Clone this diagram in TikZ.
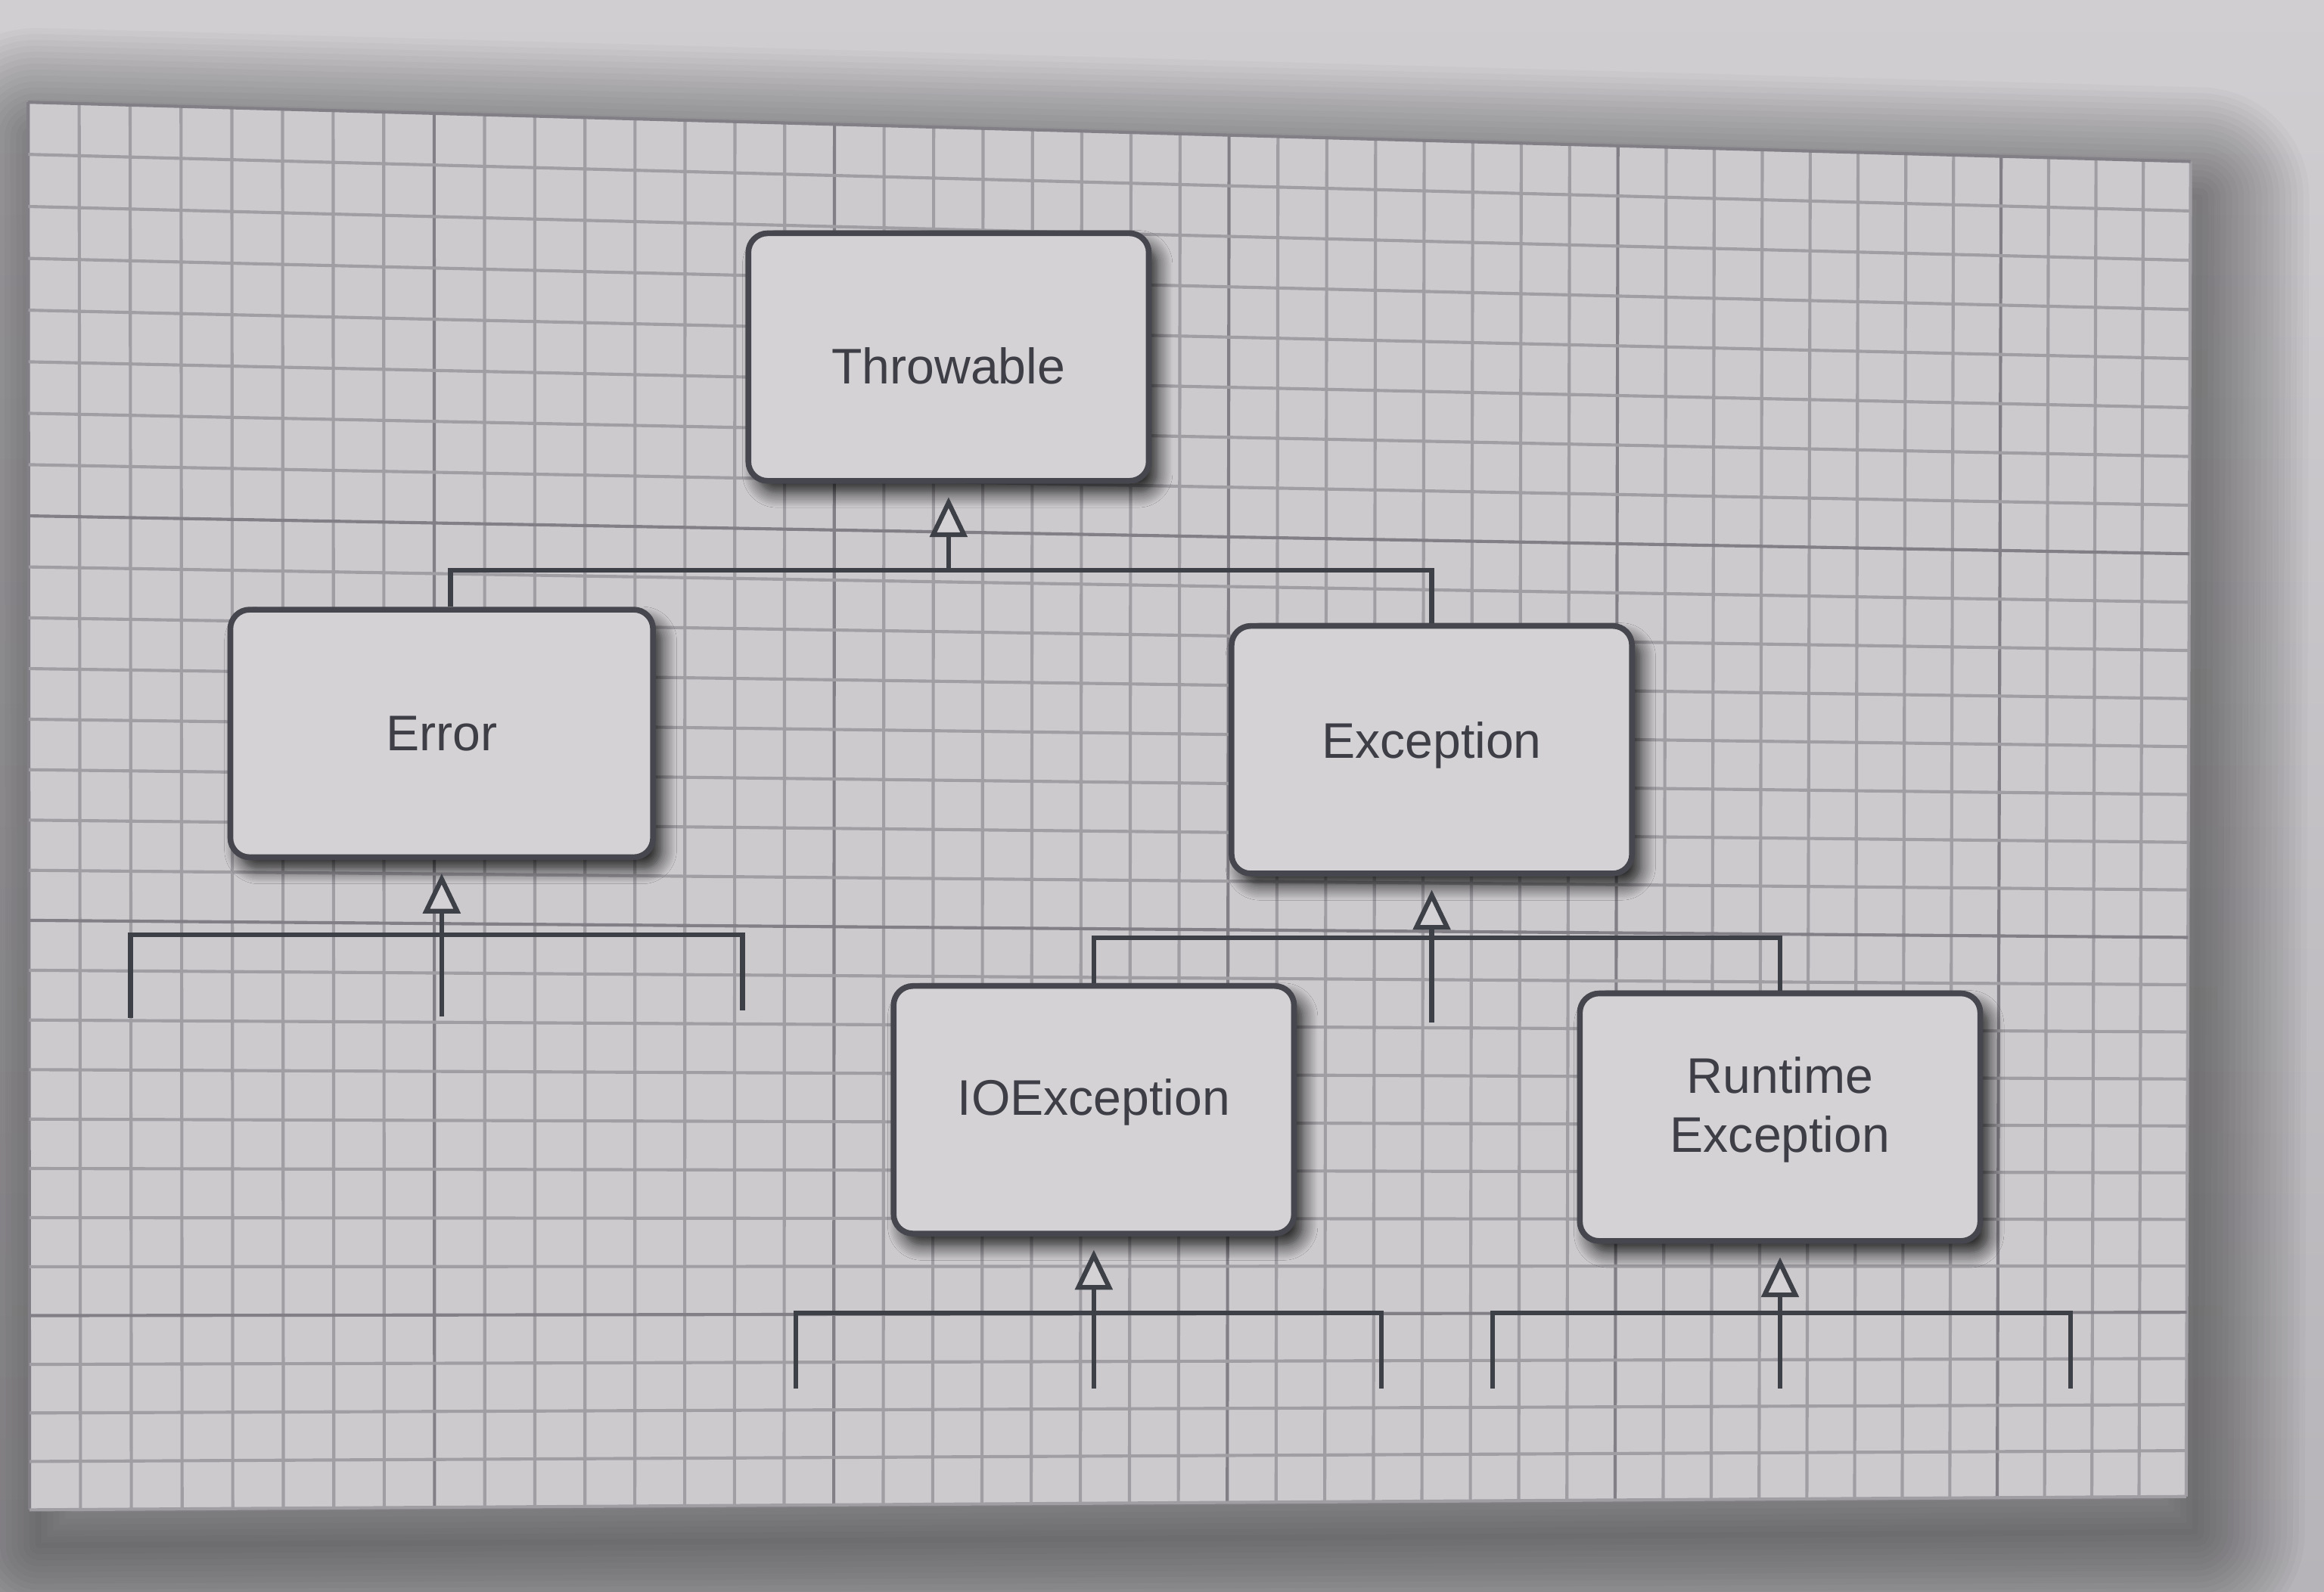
\documentclass[tikz,border=0pt]{standalone}
\usepackage{fontspec}
\setmainfont{Liberation Sans}
\usetikzlibrary{arrows.meta,calc,shadows.blur}
\definecolor{pagetop}{RGB}{208,206,209}
\definecolor{pagebottom}{RGB}{182,180,184}
\definecolor{sheet}{RGB}{204,202,205}
\definecolor{minorgrid}{RGB}{160,158,163}
\definecolor{majorgrid}{RGB}{130,128,134}
\definecolor{boxfill}{RGB}{212,210,213}
\definecolor{boxline}{RGB}{70,70,78}
\definecolor{ink}{RGB}{62,62,70}
\definecolor{linkcol}{RGB}{62,64,72}

\begin{document}
\begin{tikzpicture}[x=0.01cm,y=-0.01cm,font=\fontsize{9.6}{11.4}\selectfont,
  classbox/.style={draw=boxline,line width=1.1pt,fill=boxfill,rounded corners=0.13cm,
    minimum width=2.7cm,minimum height=1.67cm,align=center,text=ink,
    blur shadow={shadow xshift=0.06cm,shadow yshift=-0.08cm,shadow blur radius=0.1cm,shadow blur steps=10,shadow opacity=85}},
  link/.style={draw=linkcol,line width=0.9pt},
  isa/.style={link,-{Triangle[length=0.27cm,width=0.25cm,fill=boxfill]},shorten >=0.09cm}]
\useasboundingbox (0,0) rectangle (1568,1074);
\fill[top color=pagetop,bottom color=pagebottom] (0,0) rectangle (1568,1074);
\coordinate (TL) at (19,69);
\coordinate (TR) at (1478,109);
\coordinate (BR) at (1475,1010);
\coordinate (BL) at (20,1019);
\foreach \w in {4,12,...,148} {
  \draw[black,opacity=0.022,line width=\w*0.1mm,line join=round]
    ($(TL)+(6,24)$) -- ($(TR)+(6,24)$) -- ($(BR)+(6,24)$) -- ($(BL)+(6,24)$) -- cycle;
}
\fill[sheet] (TL) -- (TR) -- (BR) -- (BL) -- cycle;
\foreach \i in {0,...,44} {
  \pgfmathsetmacro\f{\i/44+0.04*(\i/44)*(1-\i/44)}
  \pgfmathtruncatemacro\m{mod(\i,8)}
  \ifnum\m=0 \def\gc{majorgrid}\else\def\gc{minorgrid}\fi
  \draw[draw=\gc,line width=0.6pt] ($(TL)!\f!(TR)$) -- ($(BL)!\f!(BR)$);
}
\foreach \j in {0,...,28} {
  \pgfmathsetmacro\g{\j/28+0.04*(\j/28)*(1-\j/28)}
  \pgfmathtruncatemacro\m{mod(\j,8)}
  \ifnum\m=0 \def\gc{majorgrid}\else\def\gc{minorgrid}\fi
  \draw[draw=\gc,line width=0.6pt] ($(TL)!\g!(BL)$) -- ($(TR)!\g!(BR)$);
}
\node[classbox,text height=10.3pt,text depth=0pt] (Throwable) at (640,241) {Throwable};
\node[classbox,minimum width=2.85cm] (Error) at (298,495) {Error};
\node[classbox,text depth=3.7pt] (Exception) at (966,506) {Exception};
\node[classbox,text depth=4.8pt] (IOException) at (738,749) {IOException};
\node[classbox] (Runtime) at (1201,754) {Runtime\\Exception\rule{0pt}{0pt}\vspace{0.1cm}};
\coordinate (tbar) at (640,385);
\coordinate (ebar) at (298,631);
\coordinate (eleft) at (88,687);
\coordinate (eright) at (501,682);
\coordinate (estem) at (298,686);
\coordinate (xbar) at (966,633);
\coordinate (xstem) at (966,690);
\coordinate (ibar) at (738,886);
\coordinate (ileft) at (537,937);
\coordinate (iright) at (932,937);
\coordinate (istem) at (738,937);
\coordinate (rbar) at (1201,886);
\coordinate (rleft) at (1007,937);
\coordinate (rright) at (1397,937);
\coordinate (rstem) at (1201,937);
\draw[link] ([xshift=0.06cm]Error.north) |- (tbar) -| (Exception.north);
\draw[isa] (tbar) -- (Throwable.south);
\draw[link] (eleft) |- (ebar) -| (eright);
\draw[isa] (estem) -- (Error.south);
\draw[link] (IOException.north) |- (xbar) -| (Runtime.north);
\draw[isa] (xstem) -- (Exception.south);
\draw[link] (ileft) |- (ibar) -| (iright);
\draw[isa] (istem) -- (IOException.south);
\draw[link] (rleft) |- (rbar) -| (rright);
\draw[isa] (rstem) -- (Runtime.south);
\end{tikzpicture}
\end{document}
